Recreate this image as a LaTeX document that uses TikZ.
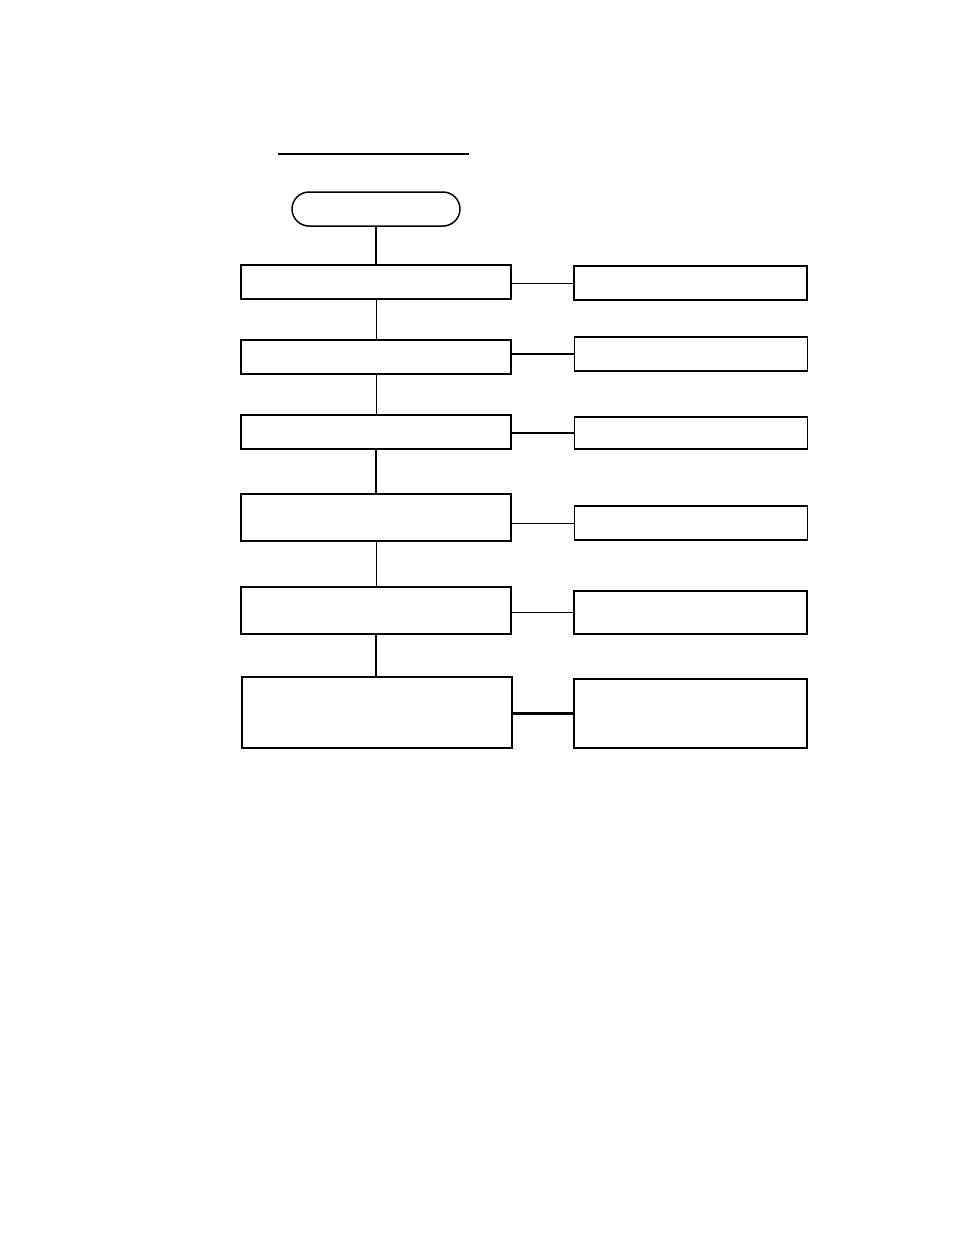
\documentclass[tikz,border=0pt]{standalone}
\usepackage{tikz}
\usetikzlibrary{shapes.misc}

\tikzset{
  box/.style={draw, line width=0.85pt, minimum height=#1, inner sep=0pt},
  box/.default=0.68cm,
  lbox/.style={box=#1, minimum width=5.4cm},
  rbox/.style={box=#1, minimum width=4.66cm},
  thin link/.style={line width=0.55pt},
  thick link/.style={line width=1.2pt}
}

\begin{document}
\begin{tikzpicture}[x=0.02cm, y=-0.02cm]
		\useasboundingbox (0,0) rectangle (954,1235);
		% heading rule
		\draw[line width=1.1pt] (278,154) -- (469,154);
		\node[draw, line width=0.85pt, rounded rectangle, minimum width=3.36cm, minimum height=0.68cm, inner sep=0pt] (start) at (376,209) {};
		% left column
		\node[lbox=0.68cm] (L1) at (376,282) {};
		\node[lbox=0.68cm] (L2) at (376,357) {};
		\node[lbox=0.68cm] (L3) at (376,432) {};
		\node[lbox=0.94cm] (L4) at (376,517.5) {};
		\node[lbox=0.94cm] (L5) at (376,610.5) {};
		\node[lbox=1.42cm] (L6) at (377,712.5) {};
		% right column
		\node[rbox=0.68cm] (R1) at (690.5,283) {};
		\node[rbox=0.68cm] (R2) at (691,354) {};
		\node[rbox=0.64cm] (R3) at (691,433) {};
		\node[rbox=0.68cm] (R4) at (691,523) {};
		\node[rbox=0.86cm] (R5) at (690.5,612.5) {};
		\node[rbox=1.38cm] (R6) at (690.5,713.5) {};
		% vertical links
		\draw[thick link] (start.south) -- (start.south |- L1.north);
		\draw[thin link] (L1.south) -- (L1.south |- L2.north);
		\draw[thin link] (L2.south) -- (L2.south |- L3.north);
		\draw[thick link] (L3.south) -- (L3.south |- L4.north);
		\draw[thin link] (L4.south) -- (L4.south |- L5.north);
		\draw[thick link] (L5.south) -- (L5.south |- L6.north);
		% side links
		\draw[thin link] (R1.west -| L1.east) -- (R1.west);
		\draw[thick link] (R2.west -| L2.east) -- (R2.west);
		\draw[thick link] (R3.west -| L3.east) -- (R3.west);
		\draw[thin link] (R4.west -| L4.east) -- (R4.west);
		\draw[thin link] (R5.west -| L5.east) -- (R5.west);
		\draw[thick link] (R6.west -| L6.east) -- (R6.west);
\end{tikzpicture}
\end{document}
